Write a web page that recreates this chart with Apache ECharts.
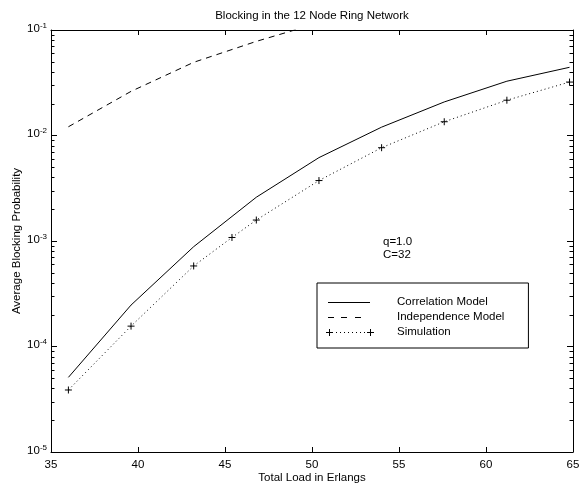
<!DOCTYPE html>
<html><head><meta charset="utf-8">
<script src="https://cdn.jsdelivr.net/npm/echarts@6/dist/echarts.min.js"></script>
<style>html,body{margin:0;padding:0;background:#fff}#c{width:579px;height:485px}</style>
</head><body><div id="c"></div>
<script>
// ---- data ----
const loadSim = [36, 39.6, 43.2, 45.4, 46.8, 50.4, 54, 57.6, 61.2, 64.8];
const simulation = [3.87e-5, 1.56e-4, 5.8e-4, 1.08e-3, 1.58e-3, 3.74e-3, 7.66e-3, 1.35e-2, 2.16e-2, 3.21e-2];
const loadModel = [36, 39.6, 43.2, 46.8, 50.4, 54, 57.6, 61.2, 64.8];
const correlation = [5.1e-5, 2.47e-4, 8.83e-4, 2.6e-3, 6.17e-3, 1.2e-2, 2.08e-2, 3.27e-2, 4.43e-2];
const loadIndep = [36, 39.6, 43.2, 46.8, 50.4];
const independence = [1.21e-2, 2.62e-2, 4.94e-2, 7.8e-2, 1.17e-1];
const xTicks = [35, 40, 45, 50, 55, 60, 65];
const yDecades = [1e-5, 1e-4, 1e-3, 1e-2, 1e-1];
const seriesNames = ['Correlation Model', 'Independence Model', 'Simulation'];
const titleText = 'Blocking in the 12 Node Ring Network';
const xName = 'Total Load in Erlangs';
const yName = 'Average Blocking Probability';
const notes = ['q=1.0', 'C=32'];

const FONT = '"Liberation Sans", Arial, Helvetica, sans-serif';
const FS = 11.5;
const minorTicks = [];
for (let d = -5; d <= -2; d++) for (let m = 2; m <= 9; m++) minorTicks.push(+(m * Math.pow(10, d)).toPrecision(3));

const zip = (xs, ys) => xs.map((x, i) => [x, ys[i]]);

// legend icons (66 x 8 box)
const B = 'M0,0L0,0M66,8L66,8';
const iconSolid = 'path://' + B + 'M2,4L44,4L44,5L2,5Z';
const iconDash = 'path://' + B + 'M2,4L8,4L8,5L2,5ZM15,4L21,4L21,5L15,5ZM29,4L35,4L35,5L29,5Z';
let dots = '';
for (let x = 10; x <= 38; x += 4) dots += 'M' + x + ',4L' + (x + 1) + ',4L' + (x + 1) + ',5L' + x + ',5Z';
const iconSim = 'path://' + B + 'M0,4L7,4L7,5L0,5ZM3,1L4,1L4,8L3,8Z' + 'M41,4L48,4L48,5L41,5ZM44,1L45,1L45,8L44,8Z' + dots;

const chart = echarts.init(document.getElementById('c'), null, {renderer: 'canvas'});
const axisCommon = {
  axisLine: {show: true, lineStyle: {color: '#000', width: 1}},
  splitLine: {show: false}
};
chart.setOption({
  animation: false,
  backgroundColor: '#fff',
  textStyle: {fontFamily: FONT, color: '#000'},
  title: {
    text: titleText, left: 312, top: 10, padding: 0, textAlign: 'center',
    textStyle: {fontFamily: FONT, fontSize: FS, fontWeight: 'normal', color: '#000'}
  },
  grid: {left: 51, right: 6, top: 30, bottom: 33, containLabel: false, outerBoundsMode: 'none'},
  legend: {
    orient: 'vertical', left: 317, top: 283,
    padding: [12, 24, 9, 9], itemGap: 1,
    itemWidth: 66, itemHeight: 8,
    borderColor: '#000', borderWidth: 1, backgroundColor: '#fff',
    textStyle: {fontFamily: FONT, fontSize: FS, color: '#000', lineHeight: 14},
    data: [
      {name: seriesNames[0], icon: iconSolid, itemStyle: {color: '#000', borderWidth: 0}},
      {name: seriesNames[1], icon: iconDash, itemStyle: {color: '#000', borderWidth: 0}},
      {name: seriesNames[2], icon: iconSim, itemStyle: {color: '#000', borderWidth: 0}}
    ],
    selectedMode: false
  },
  xAxis: [
    Object.assign({}, axisCommon, {
      type: 'value', min: xTicks[0], max: xTicks[xTicks.length - 1], interval: 5, position: 'bottom',
      axisTick: {inside: true, length: 5, lineStyle: {color: '#000'}},
      axisLabel: {fontFamily: FONT, fontSize: FS, color: '#000', margin: 7, showMaxLabel: true, showMinLabel: true},
      name: xName, nameLocation: 'middle', nameGap: 20, nameMoveOverlap: false,
      nameTextStyle: {fontFamily: FONT, fontSize: FS, color: '#000'}
    }),
    Object.assign({}, axisCommon, {
      type: 'value', min: xTicks[0], max: xTicks[xTicks.length - 1], interval: 5, position: 'top',
      axisTick: {inside: true, length: 5, lineStyle: {color: '#000'}},
      axisLabel: {show: false}
    })
  ],
  yAxis: [
    Object.assign({}, axisCommon, {
      type: 'log', logBase: 10, min: yDecades[0], max: yDecades[yDecades.length - 1], position: 'left',
      axisTick: {inside: true, length: 6, lineStyle: {color: '#000'}},
      axisLabel: {
        margin: 4, padding: [0, 0, 4, 0],
        formatter: v => '{b|10}{e|' + Math.round(Math.log10(v)) + '}',
        rich: {
          b: {fontFamily: FONT, fontSize: FS, lineHeight: 13, verticalAlign: 'bottom', color: '#000'},
          e: {fontFamily: FONT, fontSize: 8, lineHeight: 8, verticalAlign: 'top', padding: [0, 0, 7, 0], color: '#000'}
        }
      },
      name: yName, nameLocation: 'middle', nameGap: 28, nameMoveOverlap: false,
      nameTextStyle: {fontFamily: FONT, fontSize: FS, color: '#000'}
    }),
    Object.assign({}, axisCommon, {
      type: 'log', logBase: 10, min: yDecades[0], max: yDecades[yDecades.length - 1], position: 'right',
      axisTick: {inside: true, length: 6, lineStyle: {color: '#000'}},
      axisLabel: {show: false}
    })
  ],
  graphic: [
    {type: 'text', x: 383, y: 241.5, style: {text: notes[0], font: FS + 'px ' + FONT, fill: '#000', verticalAlign: 'middle'}},
    {type: 'text', x: 383, y: 255, style: {text: notes[1], font: FS + 'px ' + FONT, fill: '#000', verticalAlign: 'middle'}}
  ],
  series: [
    {
      name: seriesNames[0], type: 'line', data: zip(loadModel, correlation),
      symbol: 'none', lineStyle: {color: '#000', width: 1, type: 'solid'}, itemStyle: {color: '#000'}, z: 3
    },
    {
      name: seriesNames[1], type: 'line', data: zip(loadIndep, independence),
      symbol: 'none', lineStyle: {color: '#000', width: 1, type: [6, 5]}, itemStyle: {color: '#000'}, z: 3
    },
    {
      name: seriesNames[2], type: 'line', data: zip(loadSim, simulation),
      symbol: 'path://M0,3.5L7,3.5M3.5,0L3.5,7', symbolSize: 7, showSymbol: true,
      lineStyle: {color: '#000', width: 1, type: [1, 3]},
      itemStyle: {color: '#000', borderColor: '#000', borderWidth: 1}, z: 3
    },
    {
      name: 'minorTicks', type: 'custom', silent: true, clip: false, z: 4,
      data: minorTicks.map(v => [xTicks[0], v]),
      encode: {x: 0, y: 1},
      renderItem: function (params, api) {
        const v = api.value(1);
        const a = api.coord([xTicks[0], v]);
        const b = api.coord([xTicks[xTicks.length - 1], v]);
        const y = Math.round(a[1]) + 0.5;
        return {type: 'group', children: [
          {type: 'line', shape: {x1: a[0], y1: y, x2: a[0] + 3.5, y2: y}, style: {stroke: '#000', lineWidth: 1}},
          {type: 'line', shape: {x1: b[0] - 3.5, y1: y, x2: b[0], y2: y}, style: {stroke: '#000', lineWidth: 1}}
        ]};
      }
    }
  ]
});
</script>
</body></html>
